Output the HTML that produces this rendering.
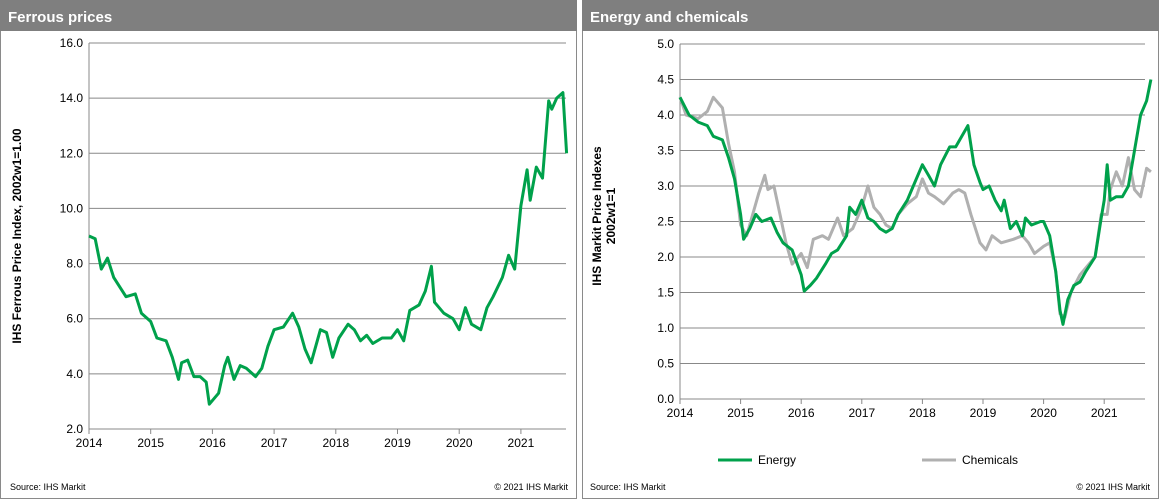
<!DOCTYPE html>
<html><head><meta charset="utf-8"><style>
body{margin:0;background:#fff;font-family:"Liberation Sans",Arial,sans-serif}
svg{display:block}
</style></head><body>
<svg id="c" width="1161" height="500" xmlns="http://www.w3.org/2000/svg" font-family="Liberation Sans, Arial, sans-serif">
<rect x="0.5" y="0.5" width="576" height="498" fill="#fff" stroke="#8a8a8a"/>
<rect x="0" y="0" width="577" height="31" fill="#7f7f7f"/>
<text x="8" y="22" fill="#fff" font-size="15" font-weight="bold">Ferrous prices</text>
<rect x="582.5" y="0.5" width="576" height="498" fill="#fff" stroke="#8a8a8a"/>
<rect x="582" y="0" width="577" height="31" fill="#7f7f7f"/>
<text x="590" y="22" fill="#fff" font-size="15" font-weight="bold">Energy and chemicals</text>
<text x="10" y="490" font-size="9" fill="#000">Source:  IHS Markit</text>
<text x="568" y="490" font-size="9" text-anchor="end">© 2021  IHS Markit</text>
<text x="590" y="490" font-size="9">Source:  IHS Markit</text>
<text x="1150" y="490" font-size="9" text-anchor="end">© 2021  IHS Markit</text>
<text transform="translate(21,236) rotate(-90)" text-anchor="middle" font-size="12" font-weight="bold">IHS Ferrous Price Index, 2002w1=1.00</text>
<text transform="translate(601,216) rotate(-90)" text-anchor="middle" font-size="12" font-weight="bold"><tspan x="0" dy="0">IHS Markit Price Indexes</tspan><tspan x="0" dy="14">2002w1=1</tspan></text>
<g>
<line x1="718" y1="460" x2="752" y2="460" stroke="#00a14b" stroke-width="3"/>
<text x="758" y="464" font-size="12">Energy</text>
<line x1="922" y1="460" x2="956" y2="460" stroke="#b0b0b0" stroke-width="3"/>
<text x="962" y="464" font-size="12">Chemicals</text>
</g>
</svg>
<script>
const ferrousYears=[2014.0,2014.1,2014.2,2014.3,2014.4,2014.6,2014.75,2014.85,2015.0,2015.1,2015.25,2015.35,2015.45,2015.5,2015.6,2015.7,2015.8,2015.9,2015.95,2016.1,2016.2,2016.25,2016.35,2016.45,2016.55,2016.7,2016.8,2016.9,2017.0,2017.15,2017.3,2017.4,2017.5,2017.6,2017.75,2017.85,2017.95,2018.05,2018.2,2018.3,2018.4,2018.5,2018.6,2018.75,2018.9,2019.0,2019.1,2019.2,2019.35,2019.45,2019.55,2019.6,2019.75,2019.9,2020.0,2020.1,2020.2,2020.35,2020.45,2020.55,2020.7,2020.8,2020.9,2021.0,2021.1,2021.15,2021.25,2021.35,2021.45,2021.5,2021.58,2021.68,2021.74];
const ferrousValues=[9.0,8.9,7.8,8.2,7.5,6.8,6.9,6.2,5.9,5.3,5.2,4.6,3.8,4.4,4.5,3.9,3.9,3.7,2.9,3.3,4.3,4.6,3.8,4.3,4.2,3.9,4.2,5.0,5.6,5.7,6.2,5.7,4.9,4.4,5.6,5.5,4.6,5.3,5.8,5.6,5.2,5.4,5.1,5.3,5.3,5.6,5.2,6.3,6.5,7.0,7.9,6.6,6.2,6.0,5.6,6.4,5.8,5.6,6.4,6.8,7.5,8.3,7.8,10.1,11.4,10.3,11.5,11.1,13.9,13.6,14.0,14.2,12.0];
const ferrousTicks=[2.0,4.0,6.0,8.0,10.0,12.0,14.0,16.0];
const yearTicks=[2014,2015,2016,2017,2018,2019,2020,2021];
const energyYears=[2014.0,2014.15,2014.3,2014.45,2014.55,2014.7,2014.8,2014.9,2015.0,2015.05,2015.15,2015.25,2015.35,2015.5,2015.6,2015.7,2015.85,2016.0,2016.05,2016.15,2016.25,2016.4,2016.5,2016.6,2016.75,2016.8,2016.9,2017.0,2017.1,2017.2,2017.3,2017.4,2017.5,2017.6,2017.75,2017.85,2018.0,2018.1,2018.2,2018.3,2018.45,2018.55,2018.65,2018.75,2018.85,2018.95,2019.0,2019.1,2019.2,2019.3,2019.35,2019.45,2019.55,2019.65,2019.7,2019.8,2019.95,2020.0,2020.1,2020.2,2020.27,2020.32,2020.4,2020.5,2020.6,2020.7,2020.85,2020.95,2021.0,2021.05,2021.1,2021.2,2021.3,2021.4,2021.5,2021.6,2021.7,2021.77];
const energyValues=[4.25,4.0,3.9,3.85,3.7,3.65,3.4,3.1,2.6,2.25,2.4,2.6,2.5,2.55,2.35,2.2,2.1,1.75,1.52,1.6,1.7,1.9,2.05,2.1,2.3,2.7,2.6,2.8,2.55,2.5,2.4,2.35,2.4,2.6,2.8,3.0,3.3,3.15,3.0,3.3,3.55,3.55,3.7,3.85,3.3,3.05,2.95,3.0,2.8,2.65,2.8,2.4,2.5,2.3,2.55,2.45,2.5,2.5,2.3,1.8,1.25,1.05,1.4,1.6,1.65,1.8,2.0,2.55,2.8,3.3,2.8,2.85,2.85,3.0,3.5,4.0,4.2,4.5];
const chemYears=[2014.0,2014.1,2014.3,2014.45,2014.55,2014.7,2014.8,2014.9,2015.0,2015.1,2015.2,2015.3,2015.4,2015.45,2015.55,2015.65,2015.75,2015.85,2016.0,2016.1,2016.2,2016.35,2016.45,2016.6,2016.7,2016.85,2017.0,2017.1,2017.2,2017.3,2017.4,2017.5,2017.6,2017.75,2017.9,2018.0,2018.1,2018.2,2018.35,2018.5,2018.6,2018.7,2018.8,2018.95,2019.05,2019.15,2019.3,2019.5,2019.65,2019.75,2019.85,2020.0,2020.1,2020.2,2020.27,2020.35,2020.45,2020.6,2020.75,2020.85,2020.95,2021.05,2021.1,2021.2,2021.3,2021.4,2021.5,2021.6,2021.7,2021.77];
const chemValues=[4.25,4.0,3.95,4.05,4.25,4.1,3.6,3.2,2.45,2.3,2.6,2.9,3.15,2.95,3.0,2.6,2.2,1.9,2.05,1.85,2.25,2.3,2.25,2.55,2.3,2.4,2.7,3.0,2.7,2.6,2.45,2.4,2.6,2.75,2.85,3.1,2.9,2.85,2.75,2.9,2.95,2.9,2.6,2.2,2.1,2.3,2.2,2.25,2.3,2.2,2.05,2.15,2.2,1.8,1.2,1.15,1.5,1.75,1.9,2.0,2.6,2.6,2.95,3.2,3.0,3.4,2.95,2.85,3.25,3.2];
const energyTicks=[0.0,0.5,1.0,1.5,2.0,2.5,3.0,3.5,4.0,4.5,5.0];

const svg=document.getElementById('c');
const NS='http://www.w3.org/2000/svg';
function mk(tag,attrs){const e=document.createElementNS(NS,tag);for(const k in attrs)e.setAttribute(k,attrs[k]);svg.appendChild(e);return e;}
function chart(cfg){
  const xs=y=>cfg.x0+(y-2014)*cfg.px;
  const ys=v=>cfg.yb-(v-cfg.vmin)*(cfg.yb-cfg.yt)/(cfg.vmax-cfg.vmin);
  cfg.ticks.forEach(t=>{
    const l=mk('line',{x1:cfg.x0,x2:cfg.xr,y1:ys(t),y2:ys(t),stroke:'#888','stroke-width':1});
    
    
    const tx=mk('text',{x:cfg.x0-6,y:ys(t)+4,'text-anchor':'end','font-size':12});
    tx.textContent=t.toFixed(1);
    
    
  });
  const ax=mk('line',{x1:cfg.x0,x2:cfg.x0,y1:cfg.yt,y2:cfg.yb,stroke:'#888'});
  
  
  yearTicks.forEach(y=>{
    const tk=mk('line',{x1:xs(y),x2:xs(y),y1:cfg.yb,y2:cfg.yb+5,stroke:'#888'});
    
    
    const tx=mk('text',{x:xs(y),y:cfg.yb+18,'text-anchor':'middle','font-size':12});
    tx.textContent=y;
    
    
  });
  cfg.series.forEach(s=>{
    const d=s.yrs.map((y,i)=>(i?'L':'M')+xs(y).toFixed(1)+','+ys(s.vals[i]).toFixed(1)).join('');
    const p=mk('path',{d:d,fill:'none',stroke:s.color,'stroke-width':3,'stroke-linejoin':'round'});
    
    
  });
}
chart({name:'ferrous',x0:89,px:61.7,xr:566,yt:43,yb:429,vmin:2,vmax:16,ticks:ferrousTicks,
  series:[{yrs:chemYears.length?ferrousYears:ferrousYears,vals:ferrousValues,color:'#00a14b',name:'ferrous-line'}]});
chart({name:'energy',x0:680,px:60.6,xr:1145,yt:44,yb:399,vmin:0,vmax:5,ticks:energyTicks,
  series:[{yrs:chemYears,vals:chemValues,color:'#b0b0b0',name:'chemicals-line'},{yrs:energyYears,vals:energyValues,color:'#00a14b',name:'energy-line'}]});
</script>
</body></html>
